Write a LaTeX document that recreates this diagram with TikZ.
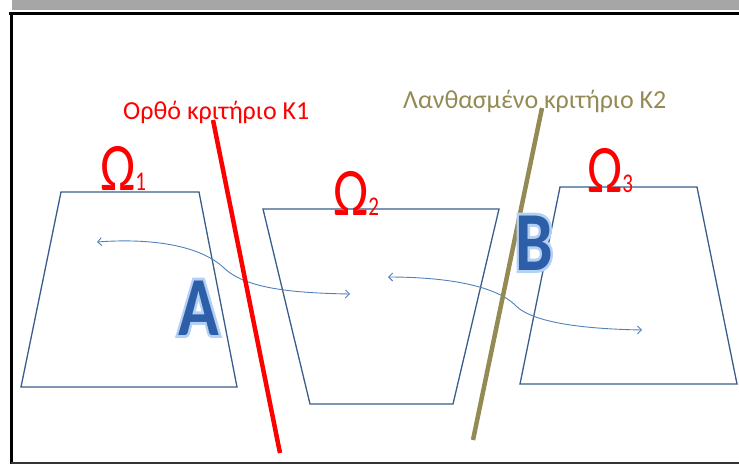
\documentclass[tikz,border=0pt]{standalone}
\usepackage{fontspec}
\setmainfont{Carlito}
\newfontface\glowface[FakeBold=7]{Carlito Bold}
\usetikzlibrary{arrows.meta}

\definecolor{boxblue}{HTML}{385D8A}
\definecolor{flowblue}{HTML}{4F81BD}
\definecolor{letterblue}{HTML}{2D5EA8}
\definecolor{glowblue}{HTML}{B4D0F4}
\definecolor{critred}{HTML}{FF0000}
\definecolor{critolive}{HTML}{948A54}
\definecolor{shadowgray}{HTML}{A6A6A6}

\begin{document}
\begin{tikzpicture}[
    % One unit is one pixel of the reference, y pointing down
    x=1pt, y=-1pt,
    % Region and criterion styles
    region/.style={draw=boxblue, line width=1.3pt},
    crit/.style={line width=4.5pt},
    % Flow between regions
    flow/.style={draw=flowblue, line width=0.9pt,
        {Straight Barb[length=4pt,width=8pt]}-{Straight Barb[length=4pt,width=8pt]}},
    % Labels
    omega/.style={text=critred, font=\fontsize{68}{68}\selectfont, xscale=0.78,
        inner sep=0pt, anchor=base west},
    critlabel/.style={font=\fontsize{26}{26}\selectfont,
        inner sep=0pt, anchor=base west},
    bigletter/.style={font=\bfseries\fontsize{84}{84}\selectfont, xscale=0.8,
        inner sep=0pt, anchor=base west, text=letterblue},
    glow/.style={font=\glowface\fontsize{84}{84}\selectfont, xscale=0.8,
        inner sep=0pt, anchor=base west, text=glowblue}
]
    \useasboundingbox (0,0) rectangle (739,464);

    % --- FRAME ---
    \fill[shadowgray] (12,0) rectangle (739,10);
    \draw[line width=3pt] (9,13) -- (739,13);
    \draw[line width=3pt] (11,12) -- (11,464);
    \draw[line width=1.5pt, black!80] (11,463) -- (739,463);

    % --- LETTER A (behind the region edge) ---
    \node[glow] at (178,335) {A};
    \node[bigletter] (labelA) at (178,335) {A};

    % --- REGIONS ---
    \draw[region] (61,192) -- (199,192) -- (237,387) -- (21,387) -- cycle;
    \draw[region] (263,209) -- (499,209) -- (453,404) -- (310,404) -- cycle;
    \draw[region] (560,187) -- (697,187) -- (737,384) -- (520,384) -- cycle;

    \node[omega] (omega1) at (100,190) {Ω{\fontsize{27}{27}\selectfont 1}};
    \node[omega] (omega2) at (333,215) {Ω{\fontsize{27}{27}\selectfont 2}};
    \node[omega] (omega3) at (587,192) {Ω{\fontsize{27}{27}\selectfont 3}};

    % --- FLOWS ---
    \coordinate (f1s) at (97,242);
    \coordinate (f1m) at (224,268);
    \coordinate (f1e) at (350,294);
    \coordinate (f2s) at (388,277);
    \coordinate (f2m) at (516,306);
    \coordinate (f2e) at (642,330);
    \draw[flow] (f1s) .. controls (150,238) and (200,245) .. (f1m)
        .. controls (245,288) and (290,293) .. (f1e);
    \draw[flow] (f2s) .. controls (440,277) and (495,284) .. (f2m)
        .. controls (535,324) and (590,329) .. (f2e);

    % --- CRITERIA ---
    \coordinate (k1top) at (213,120);
    \coordinate (k1bot) at (280,453);
    \coordinate (k2top) at (542,108);
    \coordinate (k2bot) at (473,440);
    \draw[crit, critred] (k1top) -- (k1bot);
    \draw[crit, critolive] (k2top) -- (k2bot);

    \node[critlabel, text=critred] (critK1) at (123,119) {Ορθό κριτήριο K1};
    \node[critlabel, text=critolive] (critK2) at (403,108) {Λανθασμένο κριτήριο K2};

    % --- LETTER B (over the olive line) ---
    \node[glow] at (515,270) {B};
    \node[bigletter] (labelB) at (515,270) {B};

\end{tikzpicture}
\end{document}
